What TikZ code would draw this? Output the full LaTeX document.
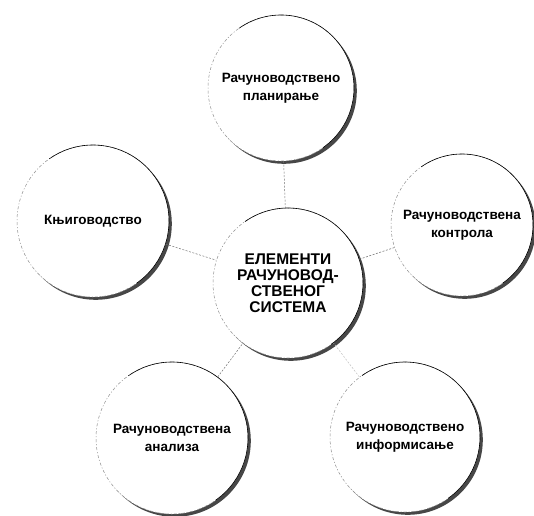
\documentclass[tikz,border=0pt]{standalone}
\usepackage{fontspec}
\setmainfont{Liberation Sans}[BoldFont={Liberation Sans Bold}]
\begin{document}
\begin{tikzpicture}[x=1pt,y=-1pt,
  bub/.style={circle, inner sep=0pt, align=center, fill=white,
    draw=black!45, line width=0.5pt, dash pattern=on 3pt off 2pt on 1pt off 2pt,
    font=\bfseries\fontsize{13.5}{18}\selectfont},
  ctr/.style={bub, font=\bfseries\fontsize{15.5}{16}\selectfont},
  shade/.style={fill=black!72},
  edge/.style={draw=black, line width=0.6pt},
  link/.style={draw=black!55, line width=0.5pt, dash pattern=on 2pt off 1.5pt}
]
\useasboundingbox (0,0) rectangle (534,515);
\coordinate (cplan) at (281,88);
\coordinate (csys) at (288,283);
\coordinate (cknj) at (93,221);
\coordinate (ckon) at (462,225);
\coordinate (cana) at (172,438);
\coordinate (cinf) at (405,437);
% shadows (covered by the white circles except on the lower right)
\foreach \n/\r in {plan/73, sys/75, knj/76, kon/71, ana/76, inf/75}{
  \path[shade] (c\n) ++(2.8,2.8) circle[radius=\r];
}
\node[bub, minimum size=146pt] (plan) at (cplan) {Рачуноводствено\\планирање};
\node[ctr, minimum size=150pt] (sys) at (csys) {ЕЛЕМЕНТИ\\РАЧУНОВОД-\\СТВЕНОГ\\СИСТЕМА};
\node[bub, minimum size=152pt] (knj) at (cknj) {Књиговодство};
\node[bub, minimum size=142pt] (kon) at (ckon) {Рачуноводствена\\контрола};
\node[bub, minimum size=152pt] (ana) at (cana) {Рачуноводствена\\анализа};
\node[bub, minimum size=150pt] (inf) at (cinf) {Рачуноводствено\\информисање};
\foreach \n/\r in {plan/73, sys/75, knj/76, kon/71, ana/76, inf/75}{
  \draw[edge] (\n.center) ++(55:\r) arc[start angle=55, end angle=-125, radius=\r];
}
\draw[link] (plan) -- (sys);
\draw[link] (knj) -- (sys);
\draw[link] (kon) -- (sys);
\draw[link] (ana) -- (sys);
\draw[link, draw=black!25] (inf) -- (sys);
\end{tikzpicture}
\end{document}
